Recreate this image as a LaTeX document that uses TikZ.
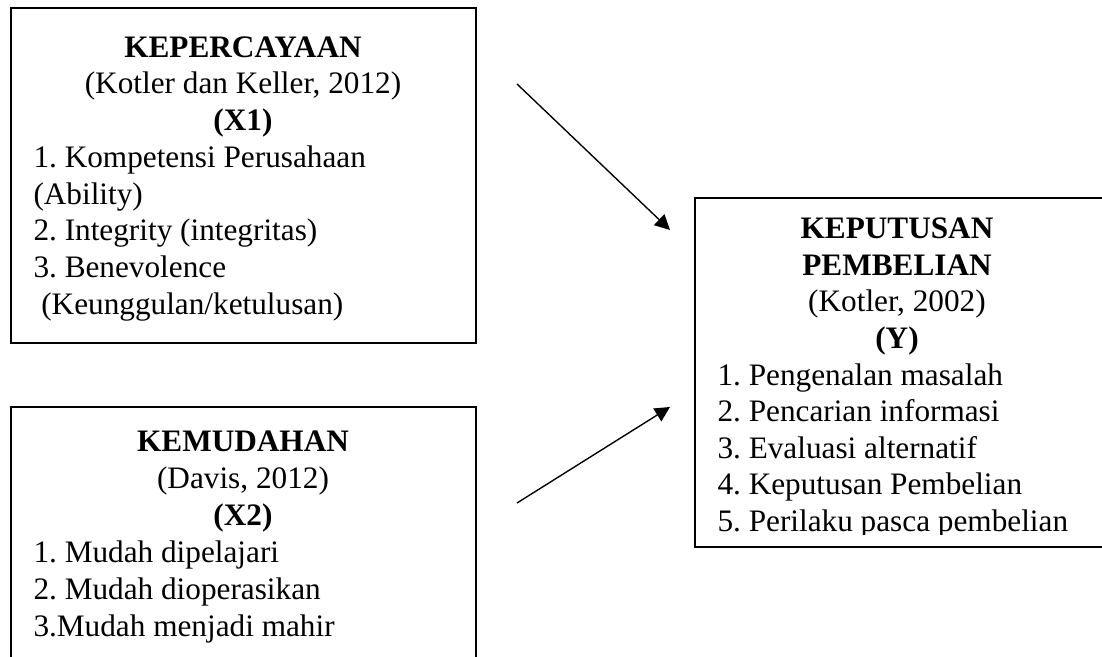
\documentclass[tikz,border=0pt]{standalone}
\usepackage{fontspec}
\setmainfont{Liberation Serif}
\frenchspacing
\usetikzlibrary{positioning, arrows.meta}

\begin{document}
\begin{tikzpicture}[x=0.4pt, y=-0.4pt, >={Triangle[length=6pt, width=6pt]},
		box/.style={draw, rectangle, line width=0.8pt, inner sep=0pt},
		txt/.style={anchor=base, inner sep=0pt, font=\fontsize{12.5}{14}\selectfont},
		head/.style={txt, font=\fontsize{12.5}{14}\selectfont\bfseries},
		item/.style={txt, anchor=base west}]
		\useasboundingbox (0, 0) rectangle (1102, 657);
		\clip (0, 0) rectangle (1102, 657);

		% kepercayaan (X1)
		\node[box, minimum width=186pt, minimum height=134pt] (trust) at (243.5, 175.5) {};
		\node[head] (trusthead) at (243, 58) {KEPERCAYAAN};
		\node[txt] (trustsrc) at (243, 94) {(Kotler dan Keller, 2012)};
		\node[head] (trustvar) at (243, 131) {(X1)};
		\node[item] (trusti1) at (33, 168) {1. Kompetensi Perusahaan};
		\node[item] (trusti1b) at (33, 204.5) {(Ability)};
		\node[item] (trusti2) at (33, 241) {2. Integrity (integritas)};
		\node[item] (trusti3) at (33, 278) {3. Benevolence};
		\node[item] (trusti3b) at (33, 315) {\ (Keunggulan/ketulusan)};

		% kemudahan (X2)
		\node[box, minimum width=186pt, minimum height=125.2pt] (ease) at (243.5, 563.5) {};
		\node[head] (easehead) at (243, 452) {KEMUDAHAN};
		\node[txt] (easesrc) at (243, 489) {(Davis, 2012)};
		\node[head] (easevar) at (243, 526) {(X2)};
		\node[item] (easei1) at (33, 563) {1. Mudah dipelajari};
		\node[item] (easei2) at (33, 600) {2. Mudah dioperasikan};
		\node[item] (easei3) at (33, 637) {3.Mudah menjadi mahir};

		% keputusan pembelian (Y)
		\node[box, minimum width=178pt, minimum height=139.6pt] (buy) at (917.5, 372.5) {};
		\node[head] (buyhead) at (897, 239) {KEPUTUSAN};
		\node[head] (buyhead2) at (897, 275.5) {PEMBELIAN};
		\node[txt] (buysrc) at (897, 312) {(Kotler, 2002)};
		\node[head] (buyvar) at (897, 349) {(Y)};
		\node[item] (buyi1) at (717, 386) {1. Pengenalan masalah};
		\node[item] (buyi2) at (717, 422) {2. Pencarian informasi};
		\node[item] (buyi3) at (717, 458.5) {3. Evaluasi alternatif};
		\node[item] (buyi4) at (717, 495) {4. Keputusan Pembelian};
		\begin{scope}
			\clip (700, 505) rectangle (1102, 535);
			\node[item] (buyi5) at (717, 531.5) {5. Perilaku pasca pembelian};
		\end{scope}

		\coordinate (trustout) at (517, 84);
		\coordinate (buyin1) at (670, 230);
		\coordinate (easeout) at (517, 503);
		\coordinate (buyin2) at (670, 407);
		\draw [->, line width=0.55pt] (trustout) -- (buyin1);
		\draw [->, line width=0.55pt] (easeout) -- (buyin2);
	\end{tikzpicture}
\end{document}
